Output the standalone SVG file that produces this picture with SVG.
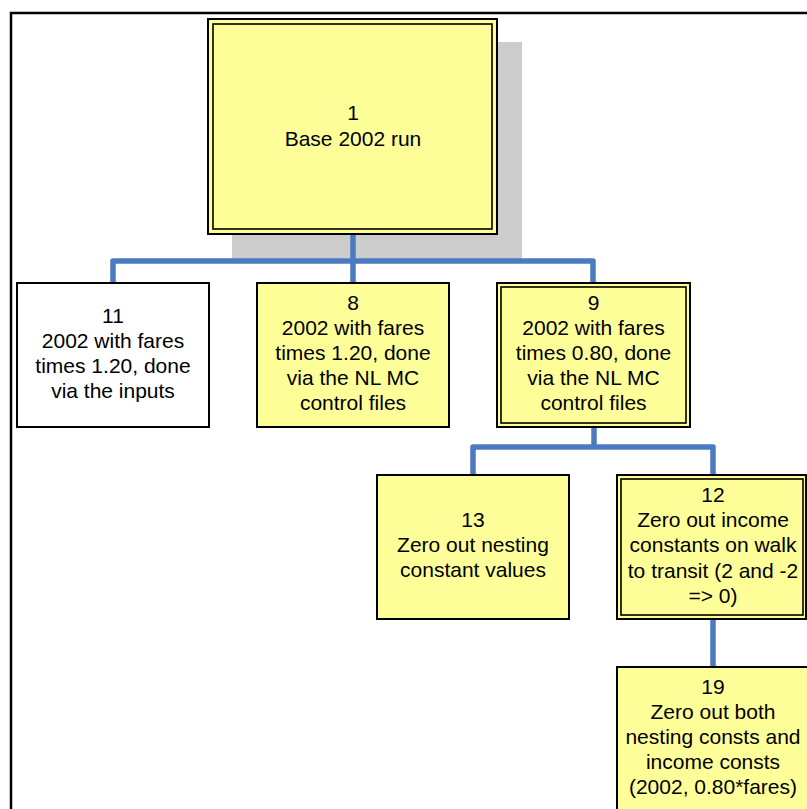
<svg xmlns="http://www.w3.org/2000/svg" width="807" height="809" viewBox="0 0 807 809">
<style>
.box{fill:#FFFF99;stroke:#000;stroke-width:2}
.wbox{fill:#FFFFFF;stroke:#000;stroke-width:2}
.inner{fill:none;stroke:#000;stroke-width:1.6}
.t{font-family:"Liberation Sans",Arial,sans-serif;font-size:21px;fill:#000;text-anchor:middle}
.c{fill:none;stroke:#4A7AC2;stroke-width:5.5;stroke-linecap:round;stroke-linejoin:round}
</style>
<rect width="807" height="809" fill="#FFFFFF"/>
<path d="M11 809 V13 H807" fill="none" stroke="#000" stroke-width="2.5"/>
<rect x="232" y="42" width="290" height="217" fill="#CCCCCC"/>
<g id="connectors">
<path class="c" d="M353 234 V261 M113 283 V261 H593 V283 M353 261 V283"/>
<path class="c" d="M594 427 V447 M473 475 V447 H713 V475"/>
<path class="c" d="M713 619 V667"/>
</g>
<g id="node1">
<rect class="box" x="208" y="19" width="289" height="215"/>
<rect class="inner" x="213" y="24" width="279" height="205"/>
<text class="t" x="353" y="120">1</text>
<text class="t" x="353" y="146">Base 2002 run</text>
</g>
<g id="node11">
<rect class="wbox" x="17" y="283" width="192" height="144"/>
<text class="t" x="113" y="323">11</text>
<text class="t" x="113" y="348">2002 with fares</text>
<text class="t" x="113" y="373">times 1.20, done</text>
<text class="t" x="113" y="398">via the inputs</text>
</g>
<g id="node8">
<rect class="box" x="257" y="283" width="192" height="144"/>
<text class="t" x="353" y="310">8</text>
<text class="t" x="353" y="335">2002 with fares</text>
<text class="t" x="353" y="360">times 1.20, done</text>
<text class="t" x="353" y="385">via the NL MC</text>
<text class="t" x="353" y="410">control files</text>
</g>
<g id="node9">
<rect class="box" x="497" y="283" width="193" height="144"/>
<rect class="inner" x="501" y="287" width="185" height="136"/>
<text class="t" x="593.5" y="310">9</text>
<text class="t" x="593.5" y="335">2002 with fares</text>
<text class="t" x="593.5" y="360">times 0.80, done</text>
<text class="t" x="593.5" y="385">via the NL MC</text>
<text class="t" x="593.5" y="410">control files</text>
</g>
<g id="node13">
<rect class="box" x="377" y="475" width="192" height="144"/>
<text class="t" x="473" y="527">13</text>
<text class="t" x="473" y="552">Zero out nesting</text>
<text class="t" x="473" y="577">constant values</text>
</g>
<g id="node12">
<rect class="box" x="617" y="475" width="189" height="144"/>
<rect class="inner" x="621" y="479" width="182" height="136"/>
<text class="t" x="713" y="502">12</text>
<text class="t" x="713" y="527">Zero out income</text>
<text class="t" x="713" y="552">constants on walk</text>
<text class="t" x="713" y="578">to transit (2 and -2</text>
<text class="t" x="713" y="603">=&gt; 0)</text>
</g>
<g id="node19">
<rect class="box" x="617" y="667" width="220" height="180"/>
<text class="t" x="713" y="694">19</text>
<text class="t" x="713" y="719">Zero out both</text>
<text class="t" x="713" y="744">nesting consts and</text>
<text class="t" x="713" y="769">income consts</text>
<text class="t" x="713" y="794">(2002, 0.80*fares)</text>
</g>
</svg>
